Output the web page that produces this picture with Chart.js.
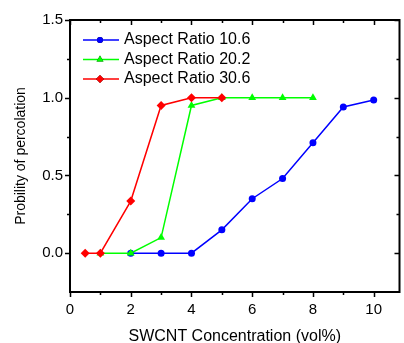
<!DOCTYPE html>
<html>
<head>
<meta charset="utf-8">
<script src="https://cdn.jsdelivr.net/npm/chart.js@4/dist/chart.umd.min.js"></script>
<style>
  html, body { margin: 0; padding: 0; background: #fff; }
</style>
</head>
<body>
<canvas id="chart" width="404" height="343"></canvas>
<script>
// data
const labels = ["Aspect Ratio 10.6", "Aspect Ratio 20.2", "Aspect Ratio 30.6"];
const xAR106 = [2, 3, 4, 5, 6, 7, 8, 9, 10];
const yAR106 = [0, 0, 0, 0.15, 0.35, 0.48, 0.71, 0.94, 0.985];
const xAR202 = [1, 2, 3, 4, 5, 6, 7, 8];
const yAR202 = [0, 0, 0.1, 0.95, 1, 1, 1, 1];
const xAR306 = [0.5, 1, 2, 3, 4, 5];
const yAR306 = [0, 0, 0.335, 0.95, 1, 1];
const xTicks = [0, 2, 4, 6, 8, 10];
const xMinorTicks = [1, 3, 5, 7, 9];
const yTicks = [0, 0.5, 1.0, 1.5];
const yMinorTicks = [0.25, 0.75, 1.25];

const FONT = "Arial, 'Liberation Sans', sans-serif";
const colors = ["#0000ff", "#00ff00", "#ff0000"];
const markers = ["circle", "triangle", "rectRot"];

const toPoints = (xs, ys) => xs.map((x, i) => ({ x, y: ys[i] }));

const datasets = [
  toPoints(xAR106, yAR106),
  toPoints(xAR202, yAR202),
  toPoints(xAR306, yAR306),
].map((data, i) => ({
  label: labels[i],
  data,
  order: 2 - i, // red drawn on top
  showLine: true,
  borderColor: colors[i],
  backgroundColor: colors[i],
  borderWidth: 1.5,
  pointStyle: markers[i],
  pointRadius: i === 0 ? 3.5 : 4.5,
  pointBorderWidth: 0,
}));

// frame, mirrored ticks and a line+marker legend
const framePlugin = {
  id: "frame",
  afterDatasetsDraw(chart) {
    const { ctx, chartArea: a, scales } = chart;
    const xs = scales.x, ys = scales.y;
    ctx.save();
    ctx.strokeStyle = "#000";
    ctx.lineWidth = 2;
    ctx.strokeRect(a.left, a.top, a.right - a.left, a.bottom - a.top);
    ctx.lineWidth = 1.5;
    ctx.beginPath();
    const tickX = (v, len) => {
      const px = Math.round(xs.getPixelForValue(v)) + 0.5;
      ctx.moveTo(px, a.bottom); ctx.lineTo(px, a.bottom + len);
      ctx.moveTo(px, a.top); ctx.lineTo(px, a.top + len);
    };
    const tickY = (v, len) => {
      const py = Math.round(ys.getPixelForValue(v)) + 0.5;
      ctx.moveTo(a.left, py); ctx.lineTo(a.left - len, py);
      ctx.moveTo(a.right, py); ctx.lineTo(a.right - len, py);
    };
    xTicks.forEach(v => tickX(v, 5));
    xMinorTicks.forEach(v => tickX(v, 3));
    yTicks.forEach(v => tickY(v, 5));
    yMinorTicks.forEach(v => tickY(v, 3));
    ctx.stroke();

    // legend
    ctx.font = "16px " + FONT;
    ctx.textBaseline = "middle";
    chart.data.datasets.forEach((ds, i) => {
      const y = 40 + i * 19.5;
      ctx.strokeStyle = ds.borderColor;
      ctx.lineWidth = 1.5;
      ctx.beginPath();
      ctx.moveTo(83, y); ctx.lineTo(119, y);
      ctx.stroke();
      Chart.helpers.drawPoint(ctx, {
        pointStyle: ds.pointStyle, radius: ds.pointRadius - 0.5, rotation: 0, borderWidth: 0,
      }, 100, y);
      ctx.fillStyle = ds.borderColor;
      ctx.fill();
      ctx.fillStyle = "#000";
      ctx.fillText(ds.label, 124, y);
    });
    ctx.restore();
  },
};

new Chart(document.getElementById("chart").getContext("2d"), {
  type: "scatter",
  data: { datasets },
  options: {
    responsive: false,
    animation: false,
    devicePixelRatio: 1,
    layout: { padding: { top: 20, right: 1, left: 0, bottom: 0 } },
    plugins: { legend: { display: false }, tooltip: { enabled: false } },
    scales: {
      x: {
        type: "linear",
        min: 0,
        max: 10.85,
        grid: { display: false, drawTicks: false },
        border: { display: false },
        afterBuildTicks: (s) => { s.ticks = xTicks.map(v => ({ value: v })); },
        afterFit: (s) => { s.height = 51; },
        ticks: { color: "#000", font: { family: FONT, size: 15 }, padding: 9, maxRotation: 0 },
        title: {
          display: true, text: "SWCNT Concentration (vol%)", color: "#000",
          font: { family: FONT, size: 16 }, padding: { top: 0, bottom: -3 },
        },
      },
      y: {
        type: "linear",
        min: -0.25,
        max: 1.5,
        grid: { display: false, drawTicks: false },
        border: { display: false },
        afterBuildTicks: (s) => { s.ticks = yTicks.map(v => ({ value: v })); },
        afterFit: (s) => { s.width = 70; },
        ticks: {
          color: "#000", font: { family: FONT, size: 15 }, padding: 7,
          callback: (v) => Number(v).toFixed(1),
        },
        title: {
          display: true, text: "Probility of percolation", color: "#000",
          font: { family: FONT, size: 14 }, padding: { top: 13, bottom: 0 },
        },
      },
    },
  },
  plugins: [framePlugin],
});
</script>
</body>
</html>
